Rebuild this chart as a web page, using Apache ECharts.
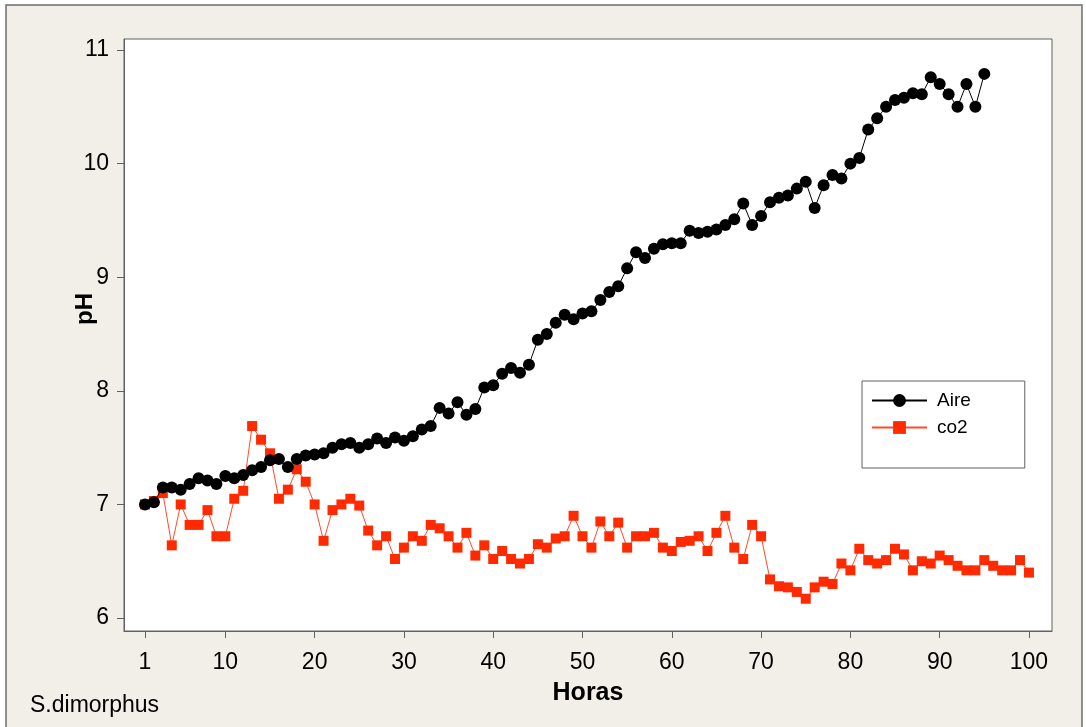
<!DOCTYPE html>
<html>
<head>
<meta charset="utf-8">
<script src="https://cdn.jsdelivr.net/npm/echarts@6/dist/echarts.min.js"></script>
<style>
html,body{margin:0;padding:0;background:#ffffff;}
#c{width:1086px;height:727px;}
</style>
</head>
<body>
<div id="c"></div>
<script>
// Hours (x) tick labels
var xTickValues = [1, 10, 20, 30, 40, 50, 60, 70, 80, 90, 100];
var yTickValues = [6, 7, 8, 9, 10, 11];

// pH readings, hour 1 onwards
var aire = [
  7.00, 7.02, 7.15, 7.15, 7.13, 7.18, 7.23, 7.21, 7.18, 7.25,
  7.23, 7.26, 7.30, 7.33, 7.39, 7.40, 7.33, 7.40, 7.43, 7.44,
  7.45, 7.50, 7.53, 7.54, 7.50, 7.53, 7.58, 7.54, 7.59, 7.56,
  7.60, 7.66, 7.69, 7.85, 7.80, 7.90, 7.79, 7.84, 8.03, 8.05,
  8.15, 8.20, 8.16, 8.23, 8.45, 8.50, 8.60, 8.67, 8.63, 8.68,
  8.70, 8.80, 8.87, 8.92, 9.08, 9.22, 9.17, 9.25, 9.29, 9.30,
  9.30, 9.41, 9.39, 9.40, 9.42, 9.46, 9.51, 9.65, 9.46, 9.54,
  9.66, 9.70, 9.72, 9.78, 9.84, 9.61, 9.81, 9.90, 9.87, 10.00,
  10.05, 10.30, 10.40, 10.50, 10.56, 10.58, 10.62, 10.61, 10.76, 10.70,
  10.61, 10.50, 10.70, 10.50, 10.79
];
var co2 = [
  7.00, 7.03, 7.10, 6.64, 7.00, 6.82, 6.82, 6.95, 6.72, 6.72,
  7.05, 7.12, 7.69, 7.57, 7.45, 7.05, 7.13, 7.31, 7.20, 7.00,
  6.68, 6.95, 7.00, 7.05, 6.99, 6.77, 6.64, 6.72, 6.52, 6.62,
  6.72, 6.68, 6.82, 6.79, 6.72, 6.62, 6.75, 6.55, 6.64, 6.52,
  6.59, 6.52, 6.48, 6.52, 6.65, 6.62, 6.70, 6.72, 6.90, 6.72,
  6.62, 6.85, 6.72, 6.84, 6.62, 6.72, 6.72, 6.75, 6.62, 6.59,
  6.67, 6.68, 6.72, 6.59, 6.75, 6.90, 6.62, 6.52, 6.82, 6.72,
  6.34, 6.28, 6.27, 6.23, 6.17, 6.27, 6.32, 6.30, 6.48, 6.42,
  6.61, 6.51, 6.48, 6.51, 6.61, 6.56, 6.42, 6.50, 6.48, 6.55,
  6.51, 6.46, 6.42, 6.42, 6.51, 6.46, 6.42, 6.42, 6.51, 6.40
];

function toPairs(arr) {
  return arr.map(function (v, i) { return [i + 1, v]; });
}

var FONT = 'Liberation Sans';
var chart = echarts.init(document.getElementById('c'), null, {renderer: 'canvas'});
chart.setOption({
  animation: false,
  backgroundColor: '#ffffff',
  graphic: [
    {
      type: 'rect', z: -10, silent: true,
      shape: {x: 6, y: 5, width: 1076, height: 730},
      style: {fill: '#f1efe8', stroke: '#6e6e6e', lineWidth: 1.5}
    },
    {
      type: 'text', left: 30, top: 694, silent: true,
      style: {text: 'S.dimorphus', font: '23px "Liberation Sans"', fill: '#000'}
    }
  ],
  grid: {
    left: 124, top: 39, right: 34, bottom: 96,
    show: true, backgroundColor: '#ffffff', borderColor: '#606060', borderWidth: 1,
    containLabel: false, outerBoundsMode: 'none'
  },
  legend: {
    orient: 'vertical',
    left: 862, top: 381,
    padding: [10, 54, 31, 9],
    itemWidth: 55, itemHeight: 16, itemGap: 8,
    backgroundColor: '#ffffff', borderColor: '#606060', borderWidth: 1,
    textStyle: {fontFamily: FONT, fontSize: 19, color: '#000', padding: [0, 0, 0, 5]},
    data: ['Aire', 'co2']
  },
  xAxis: {
    type: 'value',
    min: -1.35, max: 102.58,
    name: 'Horas', nameLocation: 'middle', nameGap: 50, nameMoveOverlap: false,
    nameTextStyle: {fontFamily: FONT, fontSize: 25, fontWeight: 'bold', color: '#000'},
    axisLine: {show: true, onZero: false, lineStyle: {color: '#606060'}},
    axisTick: {show: true, inside: false, length: 7, customValues: xTickValues, lineStyle: {color: '#606060'}},
    axisLabel: {customValues: xTickValues, margin: 20, fontFamily: FONT, fontSize: 23, color: '#000'},
    splitLine: {show: false}
  },
  yAxis: {
    type: 'value',
    min: 5.886, max: 11.097,
    name: 'pH', nameLocation: 'middle', nameGap: 27, nameMoveOverlap: false,
    nameTextStyle: {fontFamily: FONT, fontSize: 24, fontWeight: 'bold', color: '#000', padding: [0, 0, 0, 52]},
    axisLine: {show: true, onZero: false, lineStyle: {color: '#606060'}},
    axisTick: {show: true, inside: false, length: 7, customValues: yTickValues, lineStyle: {color: '#606060'}},
    axisLabel: {customValues: yTickValues, margin: 15, fontFamily: FONT, fontSize: 23, color: '#000'},
    splitLine: {show: false}
  },
  series: [
    {
      name: 'Aire', type: 'line',
      data: toPairs(aire),
      symbol: 'circle', symbolSize: 12,
      itemStyle: {color: '#000000'},
      lineStyle: {color: '#000000', width: 1},
      emphasis: {disabled: true}, z: 3
    },
    {
      name: 'co2', type: 'line',
      data: toPairs(co2),
      symbol: 'rect', symbolSize: 10,
      itemStyle: {color: '#ff2a00'},
      lineStyle: {color: '#ff4a2a', width: 1},
      emphasis: {disabled: true}, z: 2
    }
  ]
});
</script>
</body>
</html>
